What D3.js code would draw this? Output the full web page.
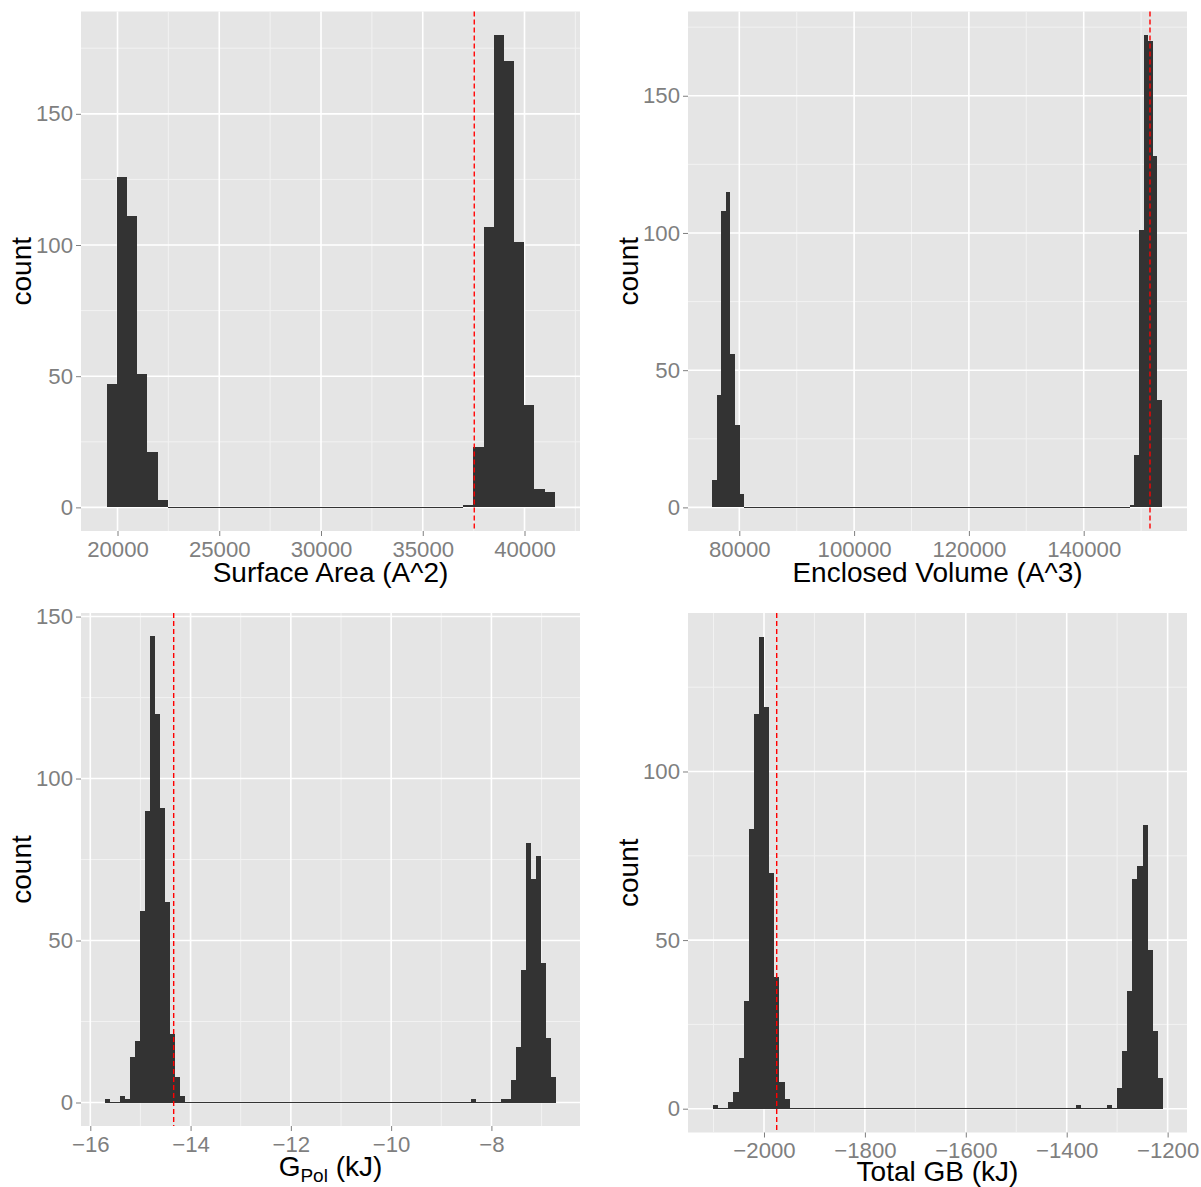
<!DOCTYPE html>
<html><head><meta charset="utf-8">
<script src="https://cdn.jsdelivr.net/npm/d3@7"></script>
<style>body{margin:0;background:#fff}svg{display:block}</style>
</head><body>
<script>
// ---------------- DATA ----------------
// Panel 1: Surface Area (A^2) histogram, 44 bins
const saBinStart = 19470, saBinWidth = 500.5;
const saCounts = [47,126,111,51,21,3,
  0,0,0,0,0,0,0,0,0,0, 0,0,0,0,0,0,0,0,0,0, 0,0,0,0,0,0,0,0,0,
  1,23,107,180,170,101,39,7,6];
const saXDomain = [18206, 42727];
const saYDomain = [-9, 189];
const saXTicks = [20000,25000,30000,35000,40000];
const saXMinor = [22500,27500,32500,37500,42500];
const saVline = 37530;
const saTitle = "Surface Area (A^2)";

// Panel 2: Enclosed Volume (A^3) histogram, 98 bins
const vaBinStart = 75244, vaBinWidth = 800;
const vaCounts = [10,41,108,115,56,30,5,
  0,0,0,0,0,0,0,0,0,0, 0,0,0,0,0,0,0,0,0,0, 0,0,0,0,0,0,0,0,0,0, 0,0,0,0,0,0,0,0,0,0,
  0,0,0,0,0,0,0,0,0,0, 0,0,0,0,0,0,0,0,0,0, 0,0,0,0,0,0,0,0,0,0, 0,0,0,0,0,0,0,0,0,0,
  0,0,0,0,
  1,19,101,172,170,128,39];
const vaXDomain = [71063, 157997];
const vaYDomain = [-8.6, 180.7];
const vaXTicks = [80000,100000,120000,140000];
const vaXMinor = [90000,110000,130000,150000];
const vaVline = 151550;
const vaTitle = "Enclosed Volume (A^3)";

// Panel 3: G_Pol (kJ) histogram, 90 bins
const gpBinStart = -15.707, gpBinWidth = 0.0999;
const gpCounts = [1,0,0,2,1,14,19,59,90,144,120,91,62,21,8,2,
  0,0,0,0,0,0,0,0,0,0, 0,0,0,0,0,0,0,0,0,0, 0,0,0,0,0,0,0,0,0,0, 0,0,0,0,0,0,0,0,0,0,
  0,0,0,0,0,0,0,0,0,0, 0,0,0,0,0,0,0,
  1,0,0,0,0,0,
  1,1,7,17,41,80,69,76,43,20,8];
const gpXDomain = [-16.1855, -6.2333];
const gpYDomain = [-7.25, 151.1];
const gpXTicks = [-16,-14,-12,-10,-8];
const gpXMinor = [-15,-13,-11,-9,-7];
const gpVline = -14.337;

// Panel 4: Total GB (kJ) histogram, 88 bins
const gbBinStart = -2101.1, gbBinWidth = 10.137;
const gbCounts = [1,0,0,2,5,15,32,83,117,140,119,70,39,8,3,
  0,0,0,0,0,0,0,0,0,0, 0,0,0,0,0,0,0,0,0,0, 0,0,0,0,0,0,0,0,0,0, 0,0,0,0,0,0,0,0,0,0,
  0,0,0,0,0,0,0,0,0,0, 0,0,0,0,0,0,
  1,0,0,0,0,0,1,0,
  6,17,35,68,72,84,47,23,9];
const gbXDomain = [-2150.6, -1161.6];
const gbYDomain = [-7.06, 147];
const gbXTicks = [-2000,-1800,-1600,-1400,-1200];
const gbXMinor = [-2100,-1900,-1700,-1500,-1300];
const gbVline = -1974.8;
const gbTitle = "Total GB (kJ)";

const yTicksTop = [0,50,100,150], yMinorTop = [25,75,125,175];
const yTicksP3 = [0,50,100,150], yMinorP3 = [25,75,125];
const yTicksP4 = [0,50,100], yMinorP4 = [25,75,125];
const yTitle = "count";

// ---------------- LAYOUT ----------------
const W = 1201, H = 1187;
const FONT = "'Liberation Sans', Arial, Helvetica, sans-serif";
const svg = d3.select("body").append("svg")
  .attr("width", W).attr("height", H)
  .style("font-family", FONT);

const panels = [
  {counts: saCounts, start: saBinStart, bw: saBinWidth, xDomain: saXDomain, yDomain: saYDomain,
   xTicks: saXTicks, xMinor: saXMinor, yTicks: yTicksTop, yMinor: yMinorTop, vline: saVline,
   title: saTitle, box: {l: 81, r: 580, t: 11.5, b: 531}, titleDy: 51},
  {counts: vaCounts, start: vaBinStart, bw: vaBinWidth, xDomain: vaXDomain, yDomain: vaYDomain,
   xTicks: vaXTicks, xMinor: vaXMinor, yTicks: yTicksTop, yMinor: yMinorTop, vline: vaVline,
   title: vaTitle, box: {l: 688, r: 1187, t: 11.5, b: 531}, titleDy: 51},
  {counts: gpCounts, start: gpBinStart, bw: gpBinWidth, xDomain: gpXDomain, yDomain: gpYDomain,
   xTicks: gpXTicks, xMinor: gpXMinor, yTicks: yTicksP3, yMinor: yMinorP3, vline: gpVline,
   title: null, box: {l: 81, r: 580, t: 613, b: 1126}, titleDy: 50},
  {counts: gbCounts, start: gbBinStart, bw: gbBinWidth, xDomain: gbXDomain, yDomain: gbYDomain,
   xTicks: gbXTicks, xMinor: gbXMinor, yTicks: yTicksP4, yMinor: yMinorP4, vline: gbVline,
   title: gbTitle, box: {l: 688, r: 1187, t: 613, b: 1132.5}, titleDy: 48.5}
];

const fmt = d3.format("d");

panels.forEach((p) => {
  const b = p.box;
  const x = d3.scaleLinear().domain(p.xDomain).range([b.l, b.r]);
  const y = d3.scaleLinear().domain(p.yDomain).range([b.b, b.t]);
  const g = svg.append("g");

  g.append("rect").attr("x", b.l).attr("y", b.t)
    .attr("width", b.r - b.l).attr("height", b.b - b.t).attr("fill", "#E5E5E5");

  // minor grid
  g.selectAll(".vmin").data(p.xMinor).join("line")
    .attr("x1", d => x(d)).attr("x2", d => x(d)).attr("y1", b.t).attr("y2", b.b)
    .attr("stroke", "#F2F2F2").attr("stroke-width", 1);
  g.selectAll(".hmin").data(p.yMinor).join("line")
    .attr("y1", d => y(d)).attr("y2", d => y(d)).attr("x1", b.l).attr("x2", b.r)
    .attr("stroke", "#F2F2F2").attr("stroke-width", 1);
  // major grid
  g.selectAll(".vmaj").data(p.xTicks).join("line")
    .attr("x1", d => x(d)).attr("x2", d => x(d)).attr("y1", b.t).attr("y2", b.b)
    .attr("stroke", "#FFFFFF").attr("stroke-width", 1.6);
  g.selectAll(".hmaj").data(p.yTicks).join("line")
    .attr("y1", d => y(d)).attr("y2", d => y(d)).attr("x1", b.l).attr("x2", b.r)
    .attr("stroke", "#FFFFFF").attr("stroke-width", 1.6);

  // bars
  const bins = p.counts.map((c, i) => ({x0: p.start + i * p.bw, x1: p.start + (i + 1) * p.bw, c}));
  g.append("g").attr("shape-rendering", "crispEdges").selectAll("rect").data(bins).join("rect")
    .attr("x", d => x(d.x0))
    .attr("width", d => x(d.x1) - x(d.x0))
    .attr("y", d => d.c > 0 ? y(d.c) : y(0) - 0.5)
    .attr("height", d => d.c > 0 ? y(0) - y(d.c) : 1)
    .attr("fill", "#333333");

  // vline
  g.append("line").attr("x1", x(p.vline)).attr("x2", x(p.vline))
    .attr("y1", b.t).attr("y2", b.b)
    .attr("stroke", "#FF0000").attr("stroke-width", 1.4).attr("stroke-dasharray", "5,3");

  // axes
  const xa = g.append("g").attr("transform", `translate(0,${b.b})`)
    .call(d3.axisBottom(x).tickValues(p.xTicks).tickFormat(fmt).tickSize(5).tickPadding(4.8));
  const ya = g.append("g").attr("transform", `translate(${b.l},0)`)
    .call(d3.axisLeft(y).tickValues(p.yTicks).tickFormat(fmt).tickSize(5).tickPadding(3));
  [xa, ya].forEach(a => {
    a.select(".domain").remove();
    a.attr("font-family", FONT).attr("font-size", 22.2);
    a.selectAll(".tick line").attr("stroke", "#7F7F7F").attr("stroke-width", 1);
    a.selectAll(".tick text").attr("fill", "#7F7F7F");
  });

  // x title
  const cx = (b.l + b.r) / 2;
  if (p.title) {
    g.append("text").attr("x", cx).attr("y", b.b + p.titleDy).attr("text-anchor", "middle")
      .attr("font-size", 28).attr("fill", "#000").text(p.title);
  } else {
    const t = g.append("text").attr("x", cx).attr("y", b.b + p.titleDy).attr("text-anchor", "middle")
      .attr("font-size", 28).attr("fill", "#000");
    t.append("tspan").text("G");
    t.append("tspan").attr("font-size", 19).attr("dy", 5.7).text("Pol");
    t.append("tspan").attr("dy", -5.7).text(" (kJ)");
  }
  // y title
  g.append("text")
    .attr("transform", `translate(${b.l - 50},${(b.t + b.b) / 2}) rotate(-90)`)
    .attr("text-anchor", "middle").attr("font-size", 28).attr("fill", "#000").text(yTitle);
});
</script>
</body></html>
